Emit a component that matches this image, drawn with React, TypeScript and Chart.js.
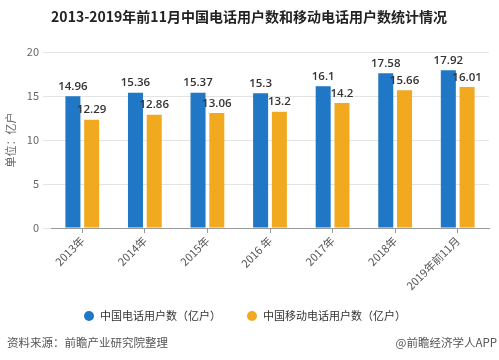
import React, { useEffect, useRef } from "react";
import { Chart, registerables } from "chart.js";

Chart.register(...registerables);

const TITLE = "2013-2019年前11月中国电话用户数和移动电话用户数统计情况";
const CATEGORIES = ["2013年", "2014年", "2015年", "2016 年", "2017年", "2018年", "2019年前11月"];
const SERIES_NAMES = ["中国电话用户数（亿户）", "中国移动电话用户数（亿户）"];
const PHONE_USERS = [14.96, 15.36, 15.37, 15.3, 16.1, 17.58, 17.92];
const MOBILE_USERS = [12.29, 12.86, 13.06, 13.2, 14.2, 15.66, 16.01];
const Y_TICKS = [0, 5, 10, 15, 20];
const Y_TITLE = "单位：亿户";
const SOURCE_TEXT = "资料来源：前瞻产业研究院整理";
const CREDIT_TEXT = "@前瞻经济学人APP";

const BLUE = "#1f77c6";
const ORANGE = "#f1aa1f";
const FONT = "'Noto Sans CJK SC', 'Noto Sans', sans-serif";

const valueLabels = {
  id: "valueLabels",
  afterDatasetsDraw(chart: any) {
    const ctx = chart.ctx;
    ctx.save();
    ctx.font = "600 11.5px 'Open Sans', 'Noto Sans', sans-serif";
    ctx.fillStyle = "#333";
    ctx.textAlign = "center";
    ctx.textBaseline = "bottom";
    chart.data.datasets.forEach((ds: any, i: number) => {
      const meta = chart.getDatasetMeta(i);
      meta.data.forEach((bar: any, j: number) => {
        ctx.fillText(String(ds.data[j]), bar.x, bar.y - 4);
      });
    });
    ctx.restore();
  },
};

const decorations = {
  id: "decorations",
  afterDraw(chart: any) {
    const ctx = chart.ctx;
    ctx.save();
    // title
    ctx.font = `bold 14px ${FONT}`;
    ctx.fillStyle = "#222";
    ctx.textAlign = "center";
    ctx.textBaseline = "middle";
    ctx.fillText(TITLE, 249, 17);
    // legend
    ctx.font = `11px ${FONT}`;
    const r = 5;
    const gapText = 6;
    const gapItem = 26;
    const items = chart.data.datasets.map((ds: any) => ({
      text: ds.label,
      color: ds.backgroundColor,
      w: r * 2 + gapText + ctx.measureText(ds.label).width,
    }));
    const total = items.reduce((s: number, it: any) => s + it.w, 0) + gapItem * (items.length - 1);
    let x = 245 - total / 2;
    const y = 316;
    items.forEach((it: any) => {
      ctx.beginPath();
      ctx.fillStyle = it.color;
      ctx.arc(x + r, y, r, 0, Math.PI * 2);
      ctx.fill();
      ctx.fillStyle = "#333";
      ctx.textAlign = "left";
      ctx.fillText(it.text, x + r * 2 + gapText, y);
      x += it.w + gapItem;
    });
    // footer
    ctx.font = `11.5px ${FONT}`;
    ctx.fillStyle = "#555";
    ctx.textAlign = "left";
    ctx.fillText(SOURCE_TEXT, 7, 343);
    ctx.textAlign = "right";
    ctx.fillText(CREDIT_TEXT, 497, 343);
    ctx.restore();
  },
};

export default function App() {
  const ref = useRef<HTMLCanvasElement | null>(null);
  useEffect(() => {
    if (!ref.current) return;
    const chart = new Chart(ref.current, {
      type: "bar",
      data: {
        labels: CATEGORIES,
        datasets: [
          {
            label: SERIES_NAMES[0],
            data: PHONE_USERS,
            backgroundColor: BLUE,
            categoryPercentage: 0.6,
            barPercentage: 0.8,
          },
          {
            label: SERIES_NAMES[1],
            data: MOBILE_USERS,
            backgroundColor: ORANGE,
            categoryPercentage: 0.6,
            barPercentage: 0.8,
          },
        ],
      },
      options: {
        animation: false,
        responsive: true,
        maintainAspectRatio: false,
        layout: { padding: { top: 52, bottom: 60, left: 0, right: 10 } },
        plugins: {
          legend: { display: false },
          tooltip: { enabled: false },
          title: { display: false },
        },
        scales: {
          x: {
            grid: {
              offset: false,
              drawOnChartArea: false,
              drawTicks: true,
              tickLength: 5,
              color: "#999",
            },
            border: { display: true, color: "#999" },
            ticks: {
              autoSkip: false,
              maxRotation: 45,
              minRotation: 45,
              color: "#555",
              padding: 1,
              font: { family: FONT, size: 11 },
            },
            afterFit: (s: any) => {
              s.height = 72;
            },
          },
          y: {
            min: 0,
            max: 20,
            afterBuildTicks: (s: any) => {
              s.ticks = Y_TICKS.map((v) => ({ value: v }));
            },
            grid: { color: "#e3e3e3", tickLength: 8, drawTicks: true },
            border: { display: false },
            ticks: {
              color: "#666",
              padding: 4,
              font: { family: FONT, size: 11 },
            },
            title: {
              display: true,
              text: Y_TITLE,
              color: "#666",
              font: { family: FONT, size: 11 },
              padding: { top: 4, bottom: 0 },
            },
            afterFit: (s: any) => {
              s.width = 51;
            },
          },
        },
      },
      plugins: [valueLabels, decorations],
    });
    return () => chart.destroy();
  }, []);
  return (
    <div style={{ position: "fixed", left: 0, top: 0, width: 499, height: 360, background: "#fff" }}>
      <canvas ref={ref} />
    </div>
  );
}
